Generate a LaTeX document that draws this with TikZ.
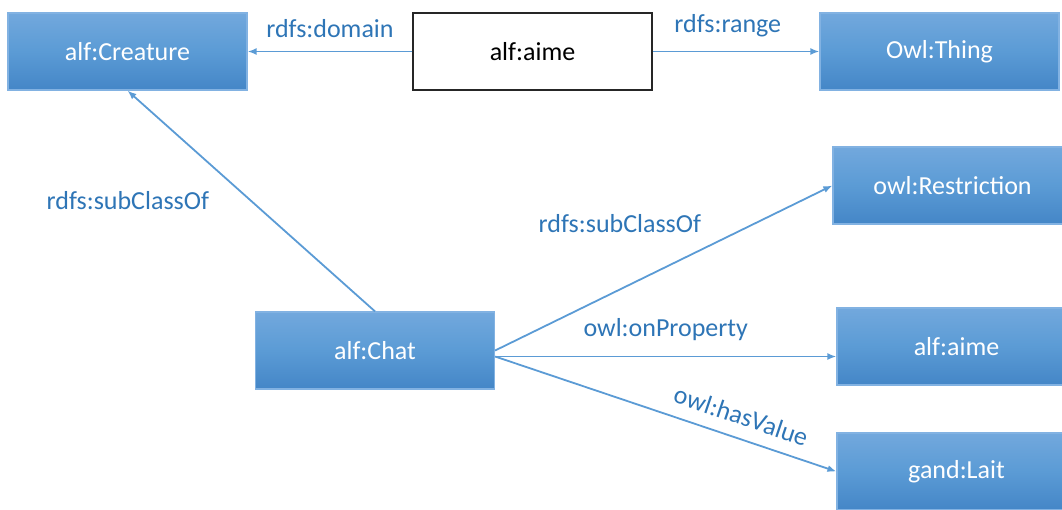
\documentclass[tikz,border=0pt]{standalone}
\usepackage{fontspec}
\setmainfont{Carlito}
\usepackage{xcolor}
\definecolor{boxtop}{RGB}{114,168,221}
\definecolor{boxmid}{RGB}{91,155,213}
\definecolor{boxbottom}{RGB}{68,134,199}
\definecolor{boxedge}{RGB}{130,178,226}
\definecolor{linkblue}{RGB}{91,155,213}
\definecolor{labelblue}{RGB}{46,117,182}
\usepackage{tikz}
\usetikzlibrary{arrows.meta}
\newcommand{\widthbox}{239pt}
\newcommand{\heightbox}{77pt}
\tikzset{
    common/.style={draw, rectangle, minimum width=\widthbox, minimum height=\heightbox, font=\fontsize{26}{30}\selectfont},
    class/.style={common, draw=boxedge, line width=1.2pt, top color=boxtop, bottom color=boxbottom, middle color=boxmid, text=white},
    prop/.style={common, draw=black!85, line width=1.5pt, fill=white},
    link/.style={-{Latex[length=9pt,width=7pt]}, linkblue, line width=1.8pt},
    rel/.style={labelblue, font=\fontsize{26}{30}\selectfont}
}

\begin{document}
\begin{tikzpicture}[x=1pt, y=-1pt]
    \useasboundingbox (0,0) rectangle (1062,509);
    \path
        (127.5,51.5) node[class] (Creature) {alf:Creature}
        ++(405,0) node[prop] (Aime) {alf:aime}
        ++(407,0) node[class] (Thing) {Owl:Thing};
    \node[class] (Chat) at (375,350.5) {alf:Chat};
    \node[class] (Restriction) at (952.5,185.5) {owl:Restriction};
    \node[class] (AimeValue) at (956.5,346.5) {alf:aime};
    \node[class] (Lait) at (956.5,471.5) {gand:Lait};

    \draw[link] (Aime) -- node[rel, above=10pt]{rdfs:domain} (Creature);
    \draw[link] (Aime) -- node[rel, pos=0.45, above=10pt]{rdfs:range} (Thing);
    \draw[link] (Chat.north) -- node[rel, left=38pt]{rdfs:subClassOf} (Creature.south);
    \draw[link] (Chat.east) -- node[rel, pos=0.37, yshift=66pt]{rdfs:subClassOf} (Restriction.west);
    \draw[link] ([yshift=-6pt]Chat.east) -- node[rel, above=12pt]{owl:onProperty} ([yshift=-10pt]AimeValue.west);
    \draw[link] ([yshift=-6pt]Chat.east) -- node[rel, pos=0.7, sloped, above=9pt]{owl:hasValue} (Lait.west);
\end{tikzpicture}
\end{document}
